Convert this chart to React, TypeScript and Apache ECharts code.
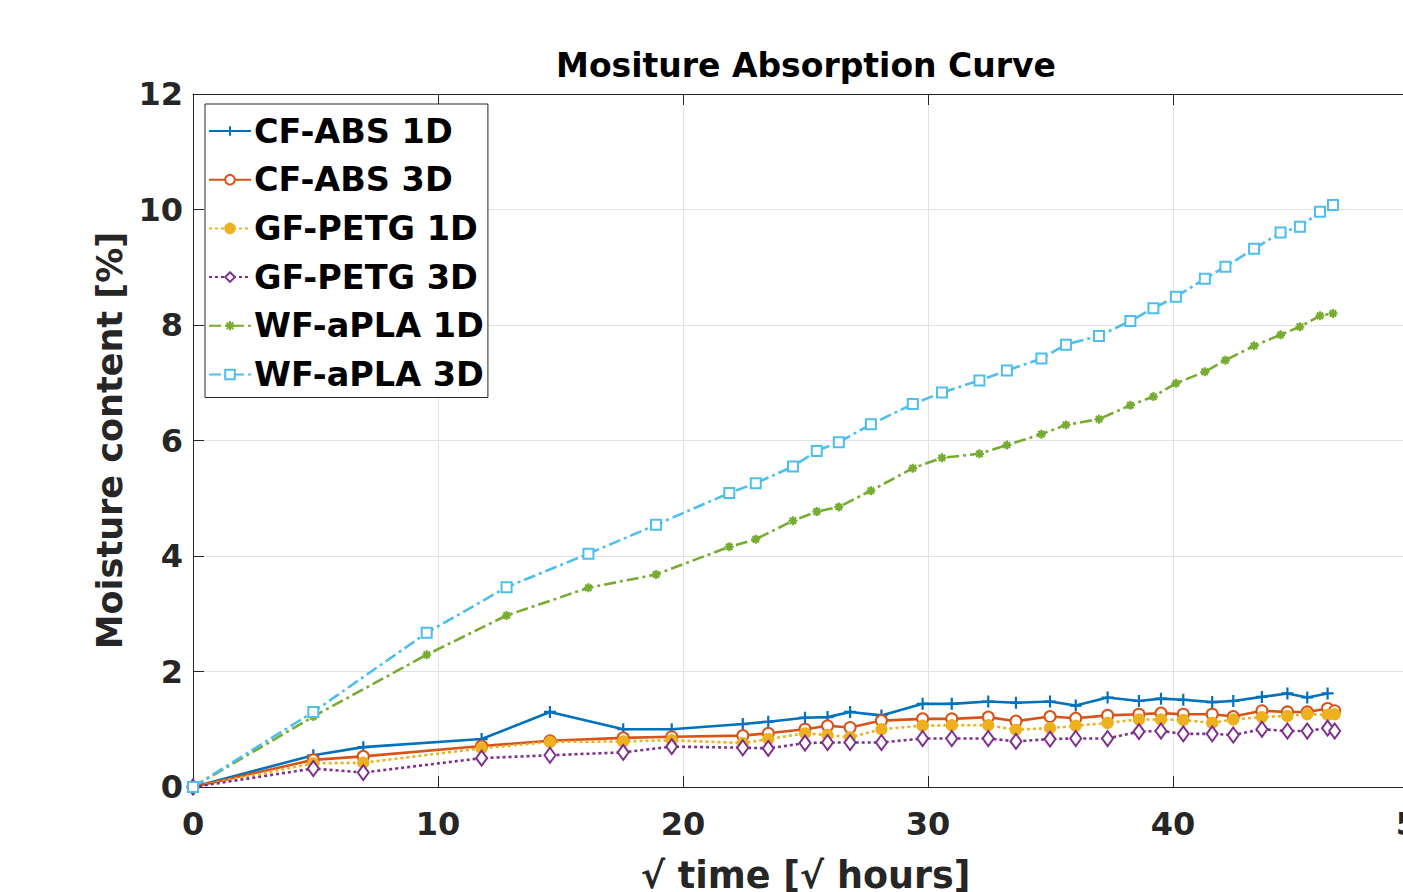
import React, { useEffect, useRef } from "react";
import * as echarts from "echarts";

const seriesNames = ["CF-ABS 1D", "CF-ABS 3D", "GF-PETG 1D", "GF-PETG 3D", "WF-aPLA 1D", "WF-aPLA 3D"];

const tCF = [0, 4.91, 6.95, 11.78, 14.57, 17.56, 19.54, 22.44, 23.48, 24.98, 25.9, 26.82, 28.1, 29.78, 30.97, 32.46, 33.59, 34.98, 36.03, 37.33, 38.61, 39.51, 40.42, 41.6, 42.46, 43.63, 44.67, 45.48, 46.31, 46.6];
const cfAbs1D = [0, 0.55, 0.69, 0.83, 1.3, 1.0, 1.0, 1.09, 1.13, 1.2, 1.21, 1.3, 1.24, 1.44, 1.44, 1.48, 1.46, 1.48, 1.41, 1.55, 1.49, 1.53, 1.51, 1.47, 1.49, 1.56, 1.62, 1.55, 1.62, null];
const cfAbs3D = [0, 0.47, 0.53, 0.71, 0.8, 0.85, 0.87, 0.89, 0.93, 1.0, 1.06, 1.03, 1.15, 1.18, 1.18, 1.21, 1.14, 1.22, 1.19, 1.24, 1.26, 1.28, 1.26, 1.26, 1.22, 1.32, 1.3, 1.3, 1.36, 1.32];
const gfPetg1D = [0, 0.41, 0.42, 0.67, 0.78, 0.79, 0.81, 0.76, 0.83, 0.93, 0.9, 0.86, 1.0, 1.06, 1.07, 1.07, 0.99, 1.02, 1.06, 1.11, 1.17, 1.17, 1.16, 1.11, 1.17, 1.21, 1.23, 1.26, 1.25, 1.26];
const gfPetg3D = [0, 0.32, 0.25, 0.5, 0.55, 0.6, 0.7, 0.68, 0.67, 0.76, 0.77, 0.77, 0.77, 0.84, 0.84, 0.84, 0.79, 0.83, 0.84, 0.84, 0.96, 0.97, 0.92, 0.92, 0.9, 1.0, 0.97, 0.97, 1.02, 0.97];

const tWF = [0, 4.91, 9.54, 12.8, 16.14, 18.9, 21.89, 22.97, 24.49, 25.46, 26.36, 27.67, 29.38, 30.57, 32.1, 33.22, 34.63, 35.63, 36.98, 38.26, 39.2, 40.12, 41.3, 42.14, 43.31, 44.39, 45.18, 46.0, 46.53];
const wfApla1D = [0, 1.22, 2.29, 2.97, 3.45, 3.68, 4.16, 4.29, 4.61, 4.77, 4.85, 5.13, 5.52, 5.7, 5.77, 5.92, 6.11, 6.27, 6.37, 6.61, 6.76, 6.99, 7.19, 7.39, 7.64, 7.83, 7.97, 8.16, 8.2];
const wfApla3D = [0, 1.3, 2.67, 3.46, 4.04, 4.54, 5.09, 5.26, 5.55, 5.82, 5.97, 6.28, 6.63, 6.83, 7.04, 7.21, 7.42, 7.66, 7.81, 8.07, 8.29, 8.49, 8.8, 9.01, 9.32, 9.6, 9.7, 9.96, 10.08];

const xTicks = [0, 10, 20, 30, 40, 50];
const yTicks = [0, 2, 4, 6, 8, 10, 12];

const FONT = "'DejaVu Sans', 'Liberation Sans', Arial, sans-serif";
const TXT = "#262626";

const pair = (t: number[], v: (number | null)[]) => t.map((x, i) => [x, v[i]]);

const PLUS = "path://M5,0 L5,10 M0,5 L10,5";
const STAR = "path://M5,0 L5,10 M0,5 L10,5 M1.5,1.5 L8.5,8.5 M1.5,8.5 L8.5,1.5";

export default function App() {
  const ref = useRef<HTMLDivElement>(null);
  useEffect(() => {
    if (!ref.current) return;
    const chart = echarts.init(ref.current, undefined, { renderer: "svg" });
    const mk = (name: string, data: any[], color: string, type: any, symbol: string, symbolSize: any) => ({
      name,
      type: "line",
      data,
      xAxisIndex: 0,
      yAxisIndex: 0,
      symbol,
      symbolSize,
      showAllSymbol: true,
      lineStyle: { color, width: 2.6, type },
      itemStyle: { color, borderColor: color, borderWidth: 2.2 },
      emphasis: { disabled: true },
    });
    chart.setOption({
      animation: false,
      backgroundColor: "#ffffff",
      grid: { left: 193, top: 94, width: 1225, height: 693, containLabel: false, outerBoundsMode: "none" },
      graphic: [
        {
          type: "text",
          x: 806,
          y: 65,
          style: {
            text: "Mositure Absorption Curve",
            font: `bold 33px ${FONT}`,
            fill: "#000000",
            textAlign: "center",
            textVerticalAlign: "middle",
          },
        },
      ],
      legend: {
        orient: "vertical",
        left: 205,
        top: 104,
        data: seriesNames,
        backgroundColor: "#ffffff",
        borderColor: TXT,
        borderWidth: 1,
        borderRadius: 0,
        padding: [7, 4, 3, 3],
        itemWidth: 42,
        itemHeight: 12,
        itemGap: 8.7,
        itemStyle: { borderWidth: 2 },
        textStyle: { fontFamily: FONT, fontWeight: "bold", fontSize: 33.5, color: "#000", lineHeight: 40, padding: [0, 0, 0, -2] },
      },
      xAxis: [
        {
          type: "value",
          min: 0,
          max: 50,
          interval: 10,
          position: "bottom",
          name: "\u221A time [\u221A hours]",
          nameLocation: "middle",
          nameGap: 70,
          nameTextStyle: { fontFamily: FONT, fontWeight: "bold", fontSize: 36.5, color: TXT },
          axisLine: { show: true, lineStyle: { color: TXT, width: 1 } },
          axisTick: { show: true, inside: true, length: 11, lineStyle: { color: TXT } },
          axisLabel: {
            fontFamily: FONT,
            fontWeight: "bold",
            fontSize: 32,
            color: TXT,
            margin: 21,
            showMaxLabel: true,
            showMinLabel: true,
            formatter: (v: number) => (xTicks.includes(v) ? String(v) : ""),
          },
          splitLine: { show: true, lineStyle: { color: "#e3e3e3", width: 1 } },
        },
        {
          type: "value",
          min: 0,
          max: 50,
          interval: 10,
          position: "top",
          axisLine: { show: true, lineStyle: { color: TXT, width: 1 } },
          axisTick: { show: true, inside: true, length: 11, lineStyle: { color: TXT } },
          axisLabel: { show: false },
          splitLine: { show: false },
        },
      ],
      yAxis: [
        {
          type: "value",
          min: 0,
          max: 12,
          interval: 2,
          name: "Moisture content [%]",
          nameLocation: "middle",
          nameGap: 62,
          nameRotate: 90,
          nameTextStyle: { fontFamily: FONT, fontWeight: "bold", fontSize: 35, color: TXT },
          axisLine: { show: true, lineStyle: { color: TXT, width: 1 } },
          axisTick: { show: true, inside: true, length: 11, lineStyle: { color: TXT } },
          axisLabel: {
            fontFamily: FONT,
            fontWeight: "bold",
            fontSize: 32,
            color: TXT,
            margin: 10,
            formatter: (v: number) => (yTicks.includes(v) ? String(v) : ""),
          },
          splitLine: { show: true, lineStyle: { color: "#e3e3e3", width: 1 } },
        },
      ],
      series: [
        mk(seriesNames[0], pair(tCF, cfAbs1D), "#0072BD", "solid", PLUS, 12),
        mk(seriesNames[1], pair(tCF, cfAbs3D), "#D95319", "solid", "emptyCircle", 11),
        mk(seriesNames[2], pair(tCF, gfPetg1D), "#EDB120", [3, 3], "circle", 10),
        mk(seriesNames[3], pair(tCF, gfPetg3D), "#7E2F8E", [3, 3], "emptyDiamond", [11, 15]),
        mk(seriesNames[4], pair(tWF, wfApla1D), "#77AC30", [12, 4, 3, 4], STAR, 9),
        mk(seriesNames[5], pair(tWF, wfApla3D), "#4DBEEE", [12, 4, 3, 4], "emptyRect", 10),
      ],
    });
    return () => chart.dispose();
  }, []);
  return (
    <div style={{ position: "fixed", left: 0, top: 0, width: 1403, height: 892, overflow: "hidden", background: "#fff" }}>
      <div ref={ref} style={{ position: "absolute", left: 0, top: 0, width: 1500, height: 892 }} />
    </div>
  );
}
